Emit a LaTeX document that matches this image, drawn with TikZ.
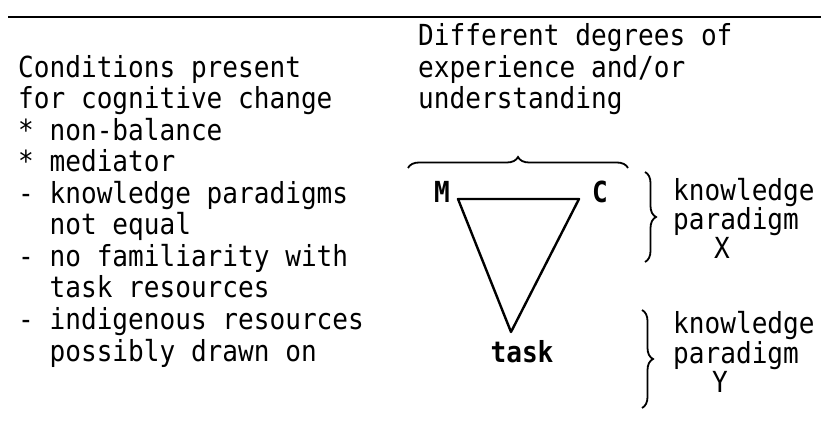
\documentclass[tikz,border=0pt]{standalone}
\usepackage{fontspec}
\setmainfont[FakeStretch=0.9]{DejaVu Sans Mono}
\usetikzlibrary{decorations.pathreplacing}
\begin{document}
\begin{tikzpicture}[x=1pt,y=-1pt,
  txt/.style={anchor=base west, inner sep=0pt, font=\fontsize{29}{31}\selectfont},
  lbl/.style={anchor=base, inner sep=0pt, font=\fontsize{29}{31}\selectfont\bfseries},
  edge/.style={line width=2.4pt, line join=round, line cap=round},
  brc/.style={decorate, decoration={brace, amplitude=11pt, aspect=0.5}, line width=1.8pt}]
\useasboundingbox (0,0) rectangle (821,427);
% top rule
\coordinate (r0) at (8,17);
\coordinate (r1) at (821,17);
\draw[line width=2.6pt] (r0) -- (r1);
% right header
\node[txt] (h1) at (418,46) {Different degrees of};
\node[txt] (h2) at (418,77.5) {experience and/or};
\node[txt] (h3) at (418,109) {understanding};
% left column
\node[txt] (l2) at (18,77.5) {Conditions present};
\node[txt] (l3) at (18,109) {for cognitive change};
\node[txt] (l4) at (18,140.5) {* non-balance};
\node[txt] (l5) at (18,172) {* mediator};
\node[txt] (l6) at (18,203.5) {- knowledge paradigms};
\node[txt] (l7) at (18,235) {\hphantom{- }not equal};
\node[txt] (l8) at (18,266.5) {- no familiarity with};
\node[txt] (l9) at (18,298) {\hphantom{- }task resources};
\node[txt] (l10) at (18,329.5) {- indigenous resources};
\node[txt] (l11) at (18,361) {\hphantom{- }possibly drawn on};
% over brace
\coordinate (ob0) at (408,168);
\coordinate (ob1) at (628,168);
\draw[brc] (ob0) -- (ob1);
% triangle
\node[lbl] (M) at (442,203) {M};
\node[lbl] (C) at (600,203) {C};
\node[lbl] (task) at (522,362) {task};
\coordinate (vM) at (458,199);
\coordinate (vC) at (579,199);
\coordinate (vT) at (511,332);
\draw[edge] (vM) -- (vC) -- (vT) -- cycle;
% right braces
\coordinate (b1a) at (645,172);
\coordinate (b1b) at (645,262);
\draw[brc] (b1a) -- (b1b);
\node[txt] (k1) at (673,201) {knowledge};
\node[txt] (p1) at (673,230) {paradigm};
\node[lbl, font=\fontsize{29}{31}\selectfont] (X) at (722,259) {X};
\coordinate (b2a) at (642,310);
\coordinate (b2b) at (642,408);
\draw[brc] (b2a) -- (b2b);
\node[txt] (k2) at (673,334) {knowledge};
\node[txt] (p2) at (673,363) {paradigm};
\node[lbl, font=\fontsize{29}{31}\selectfont] (Y) at (720,392) {Y};
\end{tikzpicture}
\end{document}
